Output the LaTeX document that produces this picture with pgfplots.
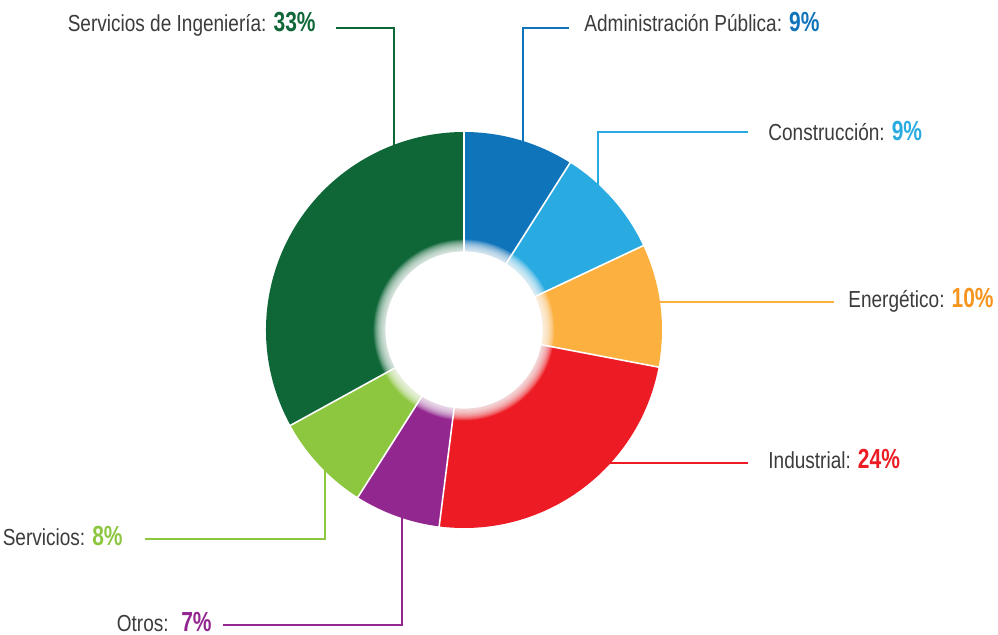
\documentclass[border=0pt]{standalone}
\usepackage{pgfplots}
\pgfplotsset{compat=1.18}
\usepackage{pgfplotstable}
\usepackage{fontspec}
\setmainfont{Liberation Sans}
\newfontfamily\lab{Liberation Sans}[FakeStretch=0.82]
\newfontfamily\num{Liberation Sans}[FakeStretch=0.76]

\definecolor{c0}{HTML}{1074BB}% Administracion Publica
\definecolor{c1}{HTML}{29ABE2}% Construccion
\definecolor{c2}{HTML}{FBB040}% Energetico
\definecolor{c3}{HTML}{ED1C24}% Industrial
\definecolor{c4}{HTML}{92278F}% Otros
\definecolor{c5}{HTML}{8DC63F}% Servicios
\definecolor{c6}{HTML}{0F6738}% Servicios de Ingenieria
\definecolor{n2}{HTML}{F7941D}
\definecolor{txt}{HTML}{3C3C3C}

% shares in percent, clockwise from 12 o'clock
\pgfplotstableread{
pct
9
9
10
24
7
8
33
}\sectors
\pgfplotstablecreatecol[create col/expr accum={\pgfmathaccuma+\thisrow{pct}}{0}]{cum}{\sectors}

\newcommand\lbl[4][]{{\lab\fontsize{11.6}{14}\selectfont #2:#1 }{\num\bfseries\fontsize{13.8}{16}\selectfont\color{#3}#4\%}}

\begin{document}
\begin{tikzpicture}
\begin{axis}[
    x=0.5pt, y=0.5pt,
    xmin=0, xmax=998,
    ymin=0, ymax=635,
    y dir=reverse,
    hide axis,
    clip=false,
  ]
  % leader lines
  \addplot[c6, line width=0.85pt] coordinates {(336,28) (394,28) (394,160)};
  \addplot[c0, line width=0.85pt] coordinates {(523,160) (523,28) (569,28)};
  \addplot[c1, line width=0.85pt] coordinates {(598,200) (598,132) (748,132)};
  \addplot[c2, line width=0.85pt] coordinates {(650,302) (834,302)};
  \addplot[c3, line width=0.85pt] coordinates {(600,463) (748,463)};
  \addplot[c5, line width=0.85pt] coordinates {(145,539) (325,539) (325,440)};
  \addplot[c4, line width=0.85pt] coordinates {(223,625) (402,625) (402,500)};

  % donut
  \pgfplotsextra{
    \foreach \i in {0,...,6}{%
      \pgfplotstablegetelem{\i}{pct}\of\sectors \let\p\pgfplotsretval
      \pgfplotstablegetelem{\i}{cum}\of\sectors \let\q\pgfplotsretval
      \pgfmathsetmacro\a{90-3.6*(\q-\p)}
      \pgfmathsetmacro\b{90-3.6*\q}
      \fill[c\i] (axis cs:464,330) ++(\a:99pt)
        arc[start angle=\a, end angle=\b, radius=99pt]
        -- ++(\b+180:61pt)
        arc[start angle=\b, end angle=\a, radius=38pt] -- cycle;
    }
    \foreach \i in {0,...,6}{%
      \pgfplotstablegetelem{\i}{cum}\of\sectors
      \pgfmathsetmacro\b{90-3.6*\pgfplotsretval}
      \draw[white, line width=0.8pt] (axis cs:464,330) ++(\b:37pt) -- ++(\b:63pt);
    }
    % soft edge of the hole
    \foreach \k in {1,...,24}{%
      \fill[white, fill opacity=0.075] (axis cs:464,330) circle[radius={39.3pt+\k*0.25pt}];
    }
    \fill[white] (axis cs:464,330) circle[radius=39.3pt];
  }

  % labels
  \node[anchor=base east, inner sep=0, text=txt] at (axis cs:316,32) {\lbl{Servicios de Ingeniería}{c6}{33}};
  \node[anchor=base west, inner sep=0, text=txt] at (axis cs:584,32) {\lbl{Administración Pública}{c0}{9}};
  \node[anchor=base west, inner sep=0, text=txt] at (axis cs:768,141) {\lbl{Construcción}{c1}{9}};
  \node[anchor=base east, inner sep=0, text=txt] at (axis cs:994,308) {\lbl{Energético}{n2}{10}};
  \node[anchor=base west, inner sep=0, text=txt] at (axis cs:768,469) {\lbl{Industrial}{c3}{24}};
  \node[anchor=base east, inner sep=0, text=txt] at (axis cs:123,546) {\lbl{Servicios}{c5}{8}};
  \node[anchor=base east, inner sep=0, text=txt] at (axis cs:212,632) {\lbl[\hspace{2.8pt}]{Otros}{c4}{7}};
\end{axis}
\pgfresetboundingbox
\path[use as bounding box] (current axis.south west) rectangle (current axis.north east);
\end{tikzpicture}
\end{document}
